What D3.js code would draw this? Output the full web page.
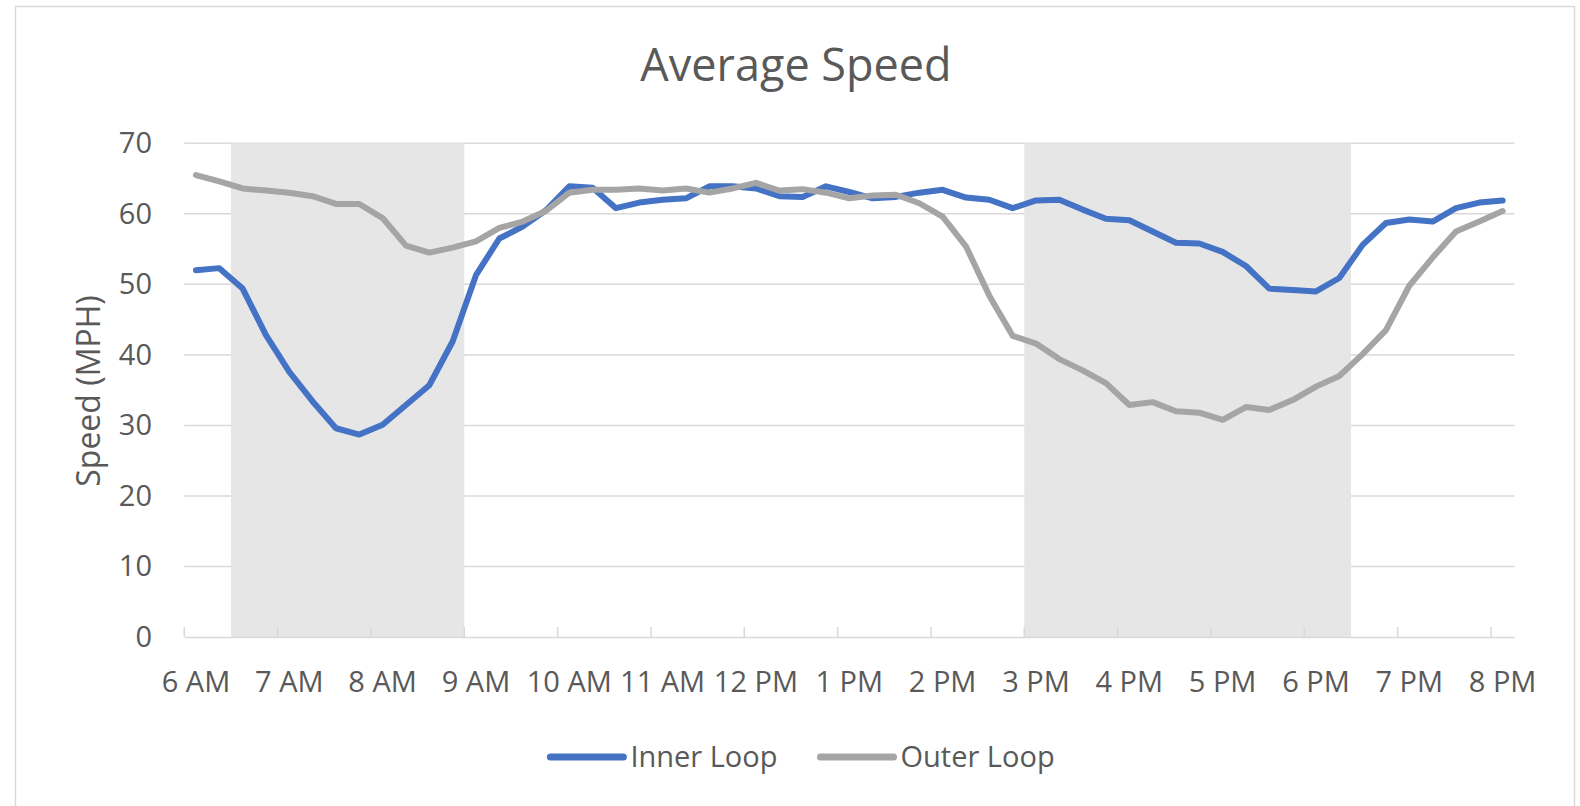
<!DOCTYPE html>
<html>
<head>
<meta charset="utf-8">
<script src="https://cdn.jsdelivr.net/npm/d3@7"></script>
<style>
  body { margin: 0; background: #fff; }
  text { font-family: "Open Sans", "Noto Sans", sans-serif; fill: #595959; }
</style>
</head>
<body>
<script>
// 15-minute categories, 6 AM to 8 PM
var times = ["6:00","6:15","6:30","6:45","7:00","7:15","7:30","7:45","8:00","8:15","8:30","8:45",
  "9:00","9:15","9:30","9:45","10:00","10:15","10:30","10:45","11:00","11:15","11:30","11:45",
  "12:00","12:15","12:30","12:45","13:00","13:15","13:30","13:45","14:00","14:15","14:30","14:45",
  "15:00","15:15","15:30","15:45","16:00","16:15","16:30","16:45","17:00","17:15","17:30","17:45",
  "18:00","18:15","18:30","18:45","19:00","19:15","19:30","19:45","20:00"];

var innerLoop = [52.0, 52.3, 49.4, 42.8, 37.6, 33.4, 29.6, 28.7, 30.1, 32.9, 35.7, 41.9,
  51.3, 56.5, 58.2, 60.5, 63.9, 63.7, 60.8, 61.6, 62.0, 62.2, 63.9, 63.9,
  63.6, 62.5, 62.4, 63.9, 63.1, 62.2, 62.4, 63.0, 63.4, 62.3, 62.0, 60.8,
  61.9, 62.0, 60.6, 59.3, 59.1, 57.5, 55.9, 55.8, 54.6, 52.6, 49.4, 49.2,
  49.0, 50.9, 55.6, 58.7, 59.2, 58.9, 60.8, 61.6, 61.9];

var outerLoop = [65.5, 64.6, 63.6, 63.3, 63.0, 62.5, 61.4, 61.4, 59.4, 55.5, 54.5, 55.2,
  56.1, 58.0, 58.9, 60.4, 63.0, 63.4, 63.4, 63.6, 63.3, 63.6, 63.0, 63.6,
  64.4, 63.3, 63.5, 63.0, 62.2, 62.6, 62.7, 61.5, 59.6, 55.4, 48.4, 42.7,
  41.6, 39.4, 37.8, 36.0, 32.9, 33.3, 32.0, 31.8, 30.8, 32.6, 32.2, 33.6,
  35.5, 37.0, 40.1, 43.5, 49.8, 53.8, 57.5, 58.9, 60.4];

var hourTicks = ["6:00","7:00","8:00","9:00","10:00","11:00","12:00","13:00","14:00",
  "15:00","16:00","17:00","18:00","19:00","20:00"];
var hourLabels = ["6 AM","7 AM","8 AM","9 AM","10 AM","11 AM","12 PM","1 PM","2 PM",
  "3 PM","4 PM","5 PM","6 PM","7 PM","8 PM"];
var yTicks = [0, 10, 20, 30, 40, 50, 60, 70];

// peak periods (first and last shaded category)
var peaks = [["6:30", "8:45"], ["15:00", "18:15"]];

var series = [
  {name: "Inner Loop", values: innerLoop, color: "#4472C4"},
  {name: "Outer Loop", values: outerLoop, color: "#A5A5A5"}
];

var W = 1580, H = 806;
var plotL = 184.3, plotR = 1514.3, plotT = 143.3, plotB = 637;

var svg = d3.select("body").append("svg")
  .attr("width", W)
  .attr("height", H);

svg.append("rect")
  .attr("x", 15.5).attr("y", 6.5)
  .attr("width", 1559).attr("height", 820)
  .attr("fill", "#fff")
  .attr("stroke", "#d9d9d9")
  .attr("stroke-width", 1.5);

var x = d3.scaleBand().domain(times).range([plotL, plotR]);
var y = d3.scaleLinear().domain([0, 70]).range([plotB, plotT]);
var bw = x.bandwidth();

// gridlines
svg.append("g").selectAll("line")
  .data(yTicks.filter(function(d){ return d > 0; }))
  .enter().append("line")
    .attr("x1", plotL).attr("x2", plotR)
    .attr("y1", function(d){ return y(d); })
    .attr("y2", function(d){ return y(d); })
    .attr("stroke", "#d9d9d9")
    .attr("stroke-width", 1.5);

// shaded peak periods
svg.append("g").selectAll("rect")
  .data(peaks)
  .enter().append("rect")
    .attr("x", function(d){ return x(d[0]); })
    .attr("width", function(d){ return x(d[1]) + bw - x(d[0]); })
    .attr("y", y(70))
    .attr("height", y(0) - y(70))
    .attr("fill", "#e6e6e6");

// x axis
var xAxis = d3.axisBottom(x)
  .tickValues(hourTicks)
  .tickSize(0)
  .tickFormat(function(d, i){ return hourLabels[i]; });

var gx = svg.append("g")
  .attr("transform", "translate(0," + plotB + ")")
  .call(xAxis);
gx.select(".domain").attr("stroke", "#d9d9d9").attr("stroke-width", 1.5);
gx.selectAll(".tick text")
  .attr("y", 55)
  .attr("dy", 0)
  .style("font-size", "29px")
  .attr("fill", "#595959");
gx.selectAll(".tick").each(function(d){
  d3.select(this).append("line")
    .attr("x1", -bw / 2).attr("x2", -bw / 2)
    .attr("y1", 0).attr("y2", -10)
    .attr("stroke", "#d9d9d9")
    .attr("stroke-width", 1.5);
});

// y axis labels
var yAxis = d3.axisLeft(y).tickValues(yTicks).tickSize(0).tickPadding(0);
var gy = svg.append("g")
  .attr("transform", "translate(152,0)")
  .call(yAxis);
gy.select(".domain").remove();
gy.selectAll(".tick text")
  .style("font-size", "29px")
  .attr("fill", "#595959");

// lines
var line = d3.line()
  .x(function(d, i){ return x(times[i]) + bw / 2; })
  .y(function(d){ return y(d); });

svg.append("g").selectAll("path")
  .data(series)
  .enter().append("path")
    .attr("d", function(d){ return line(d.values); })
    .attr("fill", "none")
    .attr("stroke", function(d){ return d.color; })
    .attr("stroke-width", 6)
    .attr("stroke-linejoin", "round")
    .attr("stroke-linecap", "round");

// titles
svg.append("text")
  .attr("x", 796).attr("y", 81)
  .attr("text-anchor", "middle")
  .style("font-size", "45px")
  .text("Average Speed");

svg.append("text")
  .attr("transform", "translate(89,391) rotate(-90)")
  .attr("text-anchor", "middle")
  .attr("dy", "0.35em")
  .style("font-size", "32px")
  .text("Speed (MPH)");

// legend
var legend = svg.append("g");
var lx = 0;
series.forEach(function(s, i){
  var g = legend.append("g").attr("transform", "translate(" + lx + ",0)");
  g.append("line")
    .attr("x1", 3).attr("x2", 76)
    .attr("y1", 0).attr("y2", 0)
    .attr("stroke", s.color)
    .attr("stroke-width", 7)
    .attr("stroke-linecap", "round");
  var t = g.append("text")
    .attr("x", 83).attr("y", 10)
    .style("font-size", "29px")
    .text(s.name);
  lx += 83 + t.node().getComputedTextLength() + 40;
});
lx -= 40;
legend.attr("transform", "translate(" + (801 - lx / 2) + ",757)");
</script>
</body>
</html>
